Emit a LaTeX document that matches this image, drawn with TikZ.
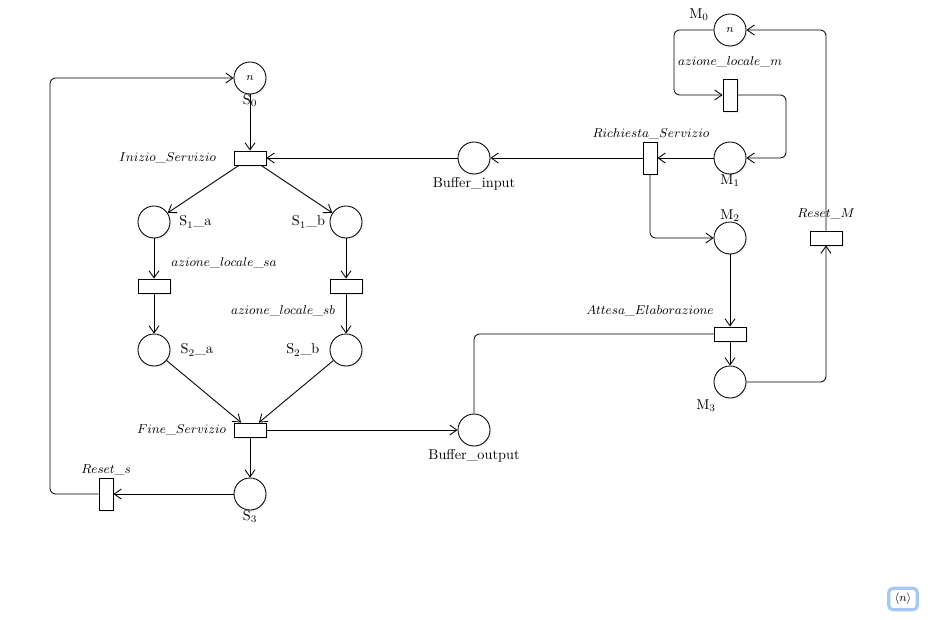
\documentclass[tikz,border=0pt]{standalone}
\usetikzlibrary{arrows.meta,shadows,backgrounds}
\begin{document}
\begin{tikzpicture}[x=0.7pt,y=-0.7pt,
  shd/.style={drop shadow={opacity=0.12,shadow xshift=1.2pt,shadow yshift=-1.2pt}},
  place/.style={circle,draw,line width=0.6pt,minimum size=22.4pt,inner sep=0pt,fill=white,shd},
  transH/.style={rectangle,draw,line width=0.6pt,minimum width=22.4pt,minimum height=9.8pt,inner sep=0pt,fill=white,shd},
  transV/.style={rectangle,draw,line width=0.6pt,minimum width=9.8pt,minimum height=22.4pt,inner sep=0pt,fill=white,shd},
  lab/.style={inner sep=1pt,font=\normalsize},
  tl/.style={inner sep=2pt,font=\small},
  arc/.style={draw,line width=0.6pt,-{Straight Barb[length=5pt,width=7pt]},rounded corners=4pt},
  tok/.style={font=\footnotesize}
]
\useasboundingbox (0,0) rectangle (939,619);

% places
\node[place,tok,label={[lab,label distance=-1pt]below:S$_0$}] (S0) at (250,78) {$n$};
\node[place,label={[lab,label distance=5pt]right:S$_1$\_a}] (S1a) at (154,222) {};
\node[place,label={[lab,label distance=2pt]left:S$_1$\_b}] (S1b) at (346,222) {};
\node[place,label={[lab,label distance=6pt]right:S$_2$\_a}] (S2a) at (154,350) {};
\node[place,label={[lab,label distance=6pt]left:S$_2$\_b}] (S2b) at (346,350) {};
\node[place,label={[lab,label distance=-1pt]below:S$_3$}] (S3) at (250,494) {};
\node[place,label={[lab,label distance=1pt]below:Buffer\_input}] (Bin) at (474,158) {};
\node[place,label={[lab,label distance=1pt]below:Buffer\_output}] (Bout) at (474,430) {};
\node[place,tok] (M0) at (730,30) {$n$};
\node[lab] (M0L) at (699,15) {M$_0$};
\node[place,label={[lab,label distance=-1pt]below:M$_1$}] (M1) at (730,158) {};
\node[place,label={[lab,label distance=-1pt]above:M$_2$}] (M2) at (730,238) {};
\node[place] (M3) at (730,382) {};
\node[lab] (M3L) at (706,406) {M$_3$};

% transitions
\node[transH,label={[tl,label distance=10pt]left:$Inizio\_Servizio$}] (IS) at (250,158) {};
\node[transH] (ALsa) at (154,286) {};
\node[tl] (ALsaL) at (224,263) {$azione\_locale\_sa$};
\node[transH] (ALsb) at (346,286) {};
\node[tl] (ALsbL) at (283,311) {$azione\_locale\_sb$};
\node[transH,label={[tl,label distance=3pt]left:$Fine\_Servizio$}] (FS) at (250,430) {};
\node[transV] (Rs) at (106,494) {};
\node[tl] (RsL) at (106,470) {$Reset\_s$};
\node[transV] (RS) at (650,158) {};
\node[tl] (RSL) at (651,134) {$Richiesta\_Servizio$};
\node[transV] (ALm) at (730,95) {};
\node[tl] (ALmL) at (730,62) {$azione\_locale\_m$};
\node[transH] (Att) at (730,334) {};
\node[tl] (AttL) at (650,311) {$Attesa\_Elaborazione$};
\node[transH] (RM) at (826,238) {};
\node[tl] (RML) at (826,214) {$Reset\_M$};

% corner helpers
\coordinate (cL) at (50,78);
\coordinate (cA) at (674,60);
\coordinate (cR) at (786,120);

% arcs
\draw[arc] (S0) -- (IS);
\draw[arc] (IS) -- (S1a);
\draw[arc] (IS) -- (S1b);
\draw[arc] (S1a) -- (ALsa);
\draw[arc] (ALsa) -- (S2a);
\draw[arc] (S1b) -- (ALsb);
\draw[arc] (ALsb) -- (S2b);
\draw[arc] (S2a) -- (FS);
\draw[arc] (S2b) -- (FS);
\draw[arc] (FS) -- (S3);
\draw[arc] (FS) -- (Bout);
\draw[arc] (S3) -- (Rs);
\draw[arc] (Rs.west) -| (cL) -- (S0);
\draw[arc] (Bin) -- (IS);
\draw[arc] (RS) -- (Bin);
\draw[arc] (M1) -- (RS);
\draw[arc] (RS.south) |- (M2);
\draw[arc] (M0.west) -| (cA) |- (ALm);
\draw[arc] (ALm.east) -| (cR) |- (M1);
\draw[arc] (M2) -- (Att);
\draw[arc] (Att) -- (M3);
\draw[arc] (M3.east) -| (RM.south);
\draw[arc] (RM.north) |- (M0);
\begin{pgfonlayer}{background}
\draw[arc] (Bout.north) |- (Att.center);
\end{pgfonlayer}

% badge
\definecolor{badgeblue}{RGB}{165,200,245}
\node[draw=badgeblue,line width=2.2pt,rounded corners=3pt,minimum width=20pt,minimum height=15pt,inner sep=1pt,font=\footnotesize] (badge) at (903,599) {$\langle n\rangle$};
\end{tikzpicture}
\end{document}
